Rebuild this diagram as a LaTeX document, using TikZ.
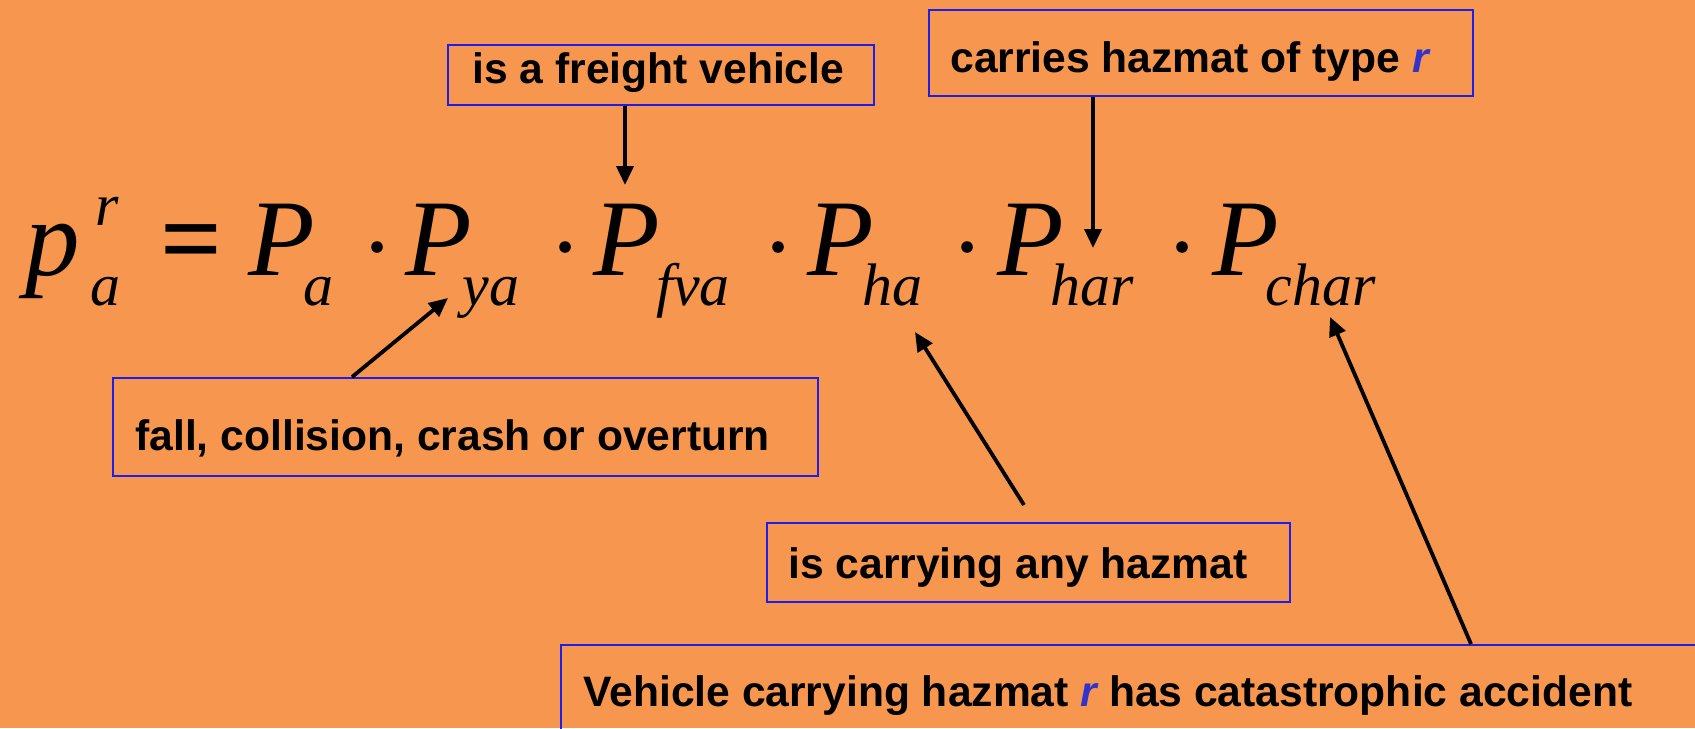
\documentclass[tikz,border=0pt]{standalone}
\usepackage{fontspec}
\setmainfont{Liberation Sans}
\newfontfamily\tnr{Liberation Serif}
\usetikzlibrary{arrows.meta,fit,calc}
\definecolor{bgorange}{RGB}{247,150,78}
\definecolor{boxblue}{RGB}{30,30,235}
\definecolor{rblue}{RGB}{51,51,204}
\begin{document}
\begin{tikzpicture}[x=0.5pt,y=-0.5pt,
  lbl/.style={anchor=base west,inner sep=0pt,font=\fontsize{21.3}{25}\selectfont\bfseries},
  bigsym/.style={anchor=base west,inner sep=0pt,font=\fontsize{54.5}{60}\selectfont\tnr\itshape},
  bigop/.style={anchor=base west,inner sep=0pt,font=\fontsize{54.5}{60}\selectfont\tnr\bfseries},
  subsym/.style={anchor=base west,inner sep=0pt,font=\fontsize{30}{34}\selectfont\tnr\itshape},
  lbox/.style={draw=boxblue,line width=1pt,inner sep=0pt},
  arr/.style={-{Triangle[length=9.5pt,width=8.5pt]},line width=1.9pt},
  opdot/.style={fill=black,circle,inner sep=0pt,minimum size=5.8pt}
]
\fill[bgorange] (0,0) rectangle (1695,728);
\useasboundingbox (0,0) rectangle (1695,728);
\clip (0,0) rectangle (1695,728);

% boxes
\node[lbox,fit={(448,45)(874,105)}] (b1) {};
\node[lbox,fit={(929,10)(1473,96)}] (b2) {};
\node[lbox,fit={(113,378)(818,476)}] (b3) {};
\node[lbox,fit={(767,523)(1290,602)}] (b4) {};
\node[lbox,fit={(561,645)(1720,760)}] (b5) {};

% labels
\node[lbl] (t1) at (472,83) {is a freight vehicle};
\node[lbl] (t2) at (950,72) {carries hazmat of type {\color{rblue}\itshape r}};
\node[lbl] (t3) at (135,450) {fall, collision, crash or overturn};
\node[lbl] (t4) at (788,578) {is carrying any hazmat};
\node[lbl] (t5) at (583,706) {Vehicle carrying hazmat {\color{rblue}\itshape r} has catastrophic accident};

% formula
\node[bigsym] (p) at (25,275) {p};
\node[subsym] (pr) at (95,225) {r};
\node[subsym] (pa) at (90,305) {a};
\node[bigop] (eq) at (160,275) {=};
\node[bigsym] (P1) at (248,275) {P}; \node[subsym] (s1) at (303,305) {a};
\node[opdot] (d1) at (377,247) {};
\node[bigsym] (P2) at (405,275) {P}; \node[subsym] (s2) at (462,305) {ya};
\node[opdot] (d2) at (565,247) {};
\node[bigsym] (P3) at (593,275) {P}; \node[subsym] (s3) at (656,305) {fva};
\node[opdot] (d3) at (778,247) {};
\node[bigsym] (P4) at (807,275) {P}; \node[subsym] (s4) at (862,305) {ha};
\node[opdot] (d4) at (967,247) {};
\node[bigsym] (P5) at (997,275) {P}; \node[subsym] (s5) at (1050,305) {har};
\node[opdot] (d5) at (1182,247) {};
\node[bigsym] (P6) at (1212,275) {P}; \node[subsym] (s6) at (1265,305) {char};

% arrows
\coordinate (a1) at (625,185);
\draw[arr] (a1 |- b1.south) -- (a1);
\coordinate (a2) at (1093,248);
\draw[arr] (a2 |- b2.south) -- (a2);
\coordinate (a3) at (448,298);
\draw[arr] ($(b3.north west)+(240,0)$) -- (a3);
\coordinate (a4s) at (1024,505);
\coordinate (a4) at (915,332);
\draw[arr] (a4s) -- (a4);
\coordinate (a5) at (1330,317);
\draw[arr] ($(b5.north west)+(911,0)$) -- (a5);
\end{tikzpicture}
\end{document}
